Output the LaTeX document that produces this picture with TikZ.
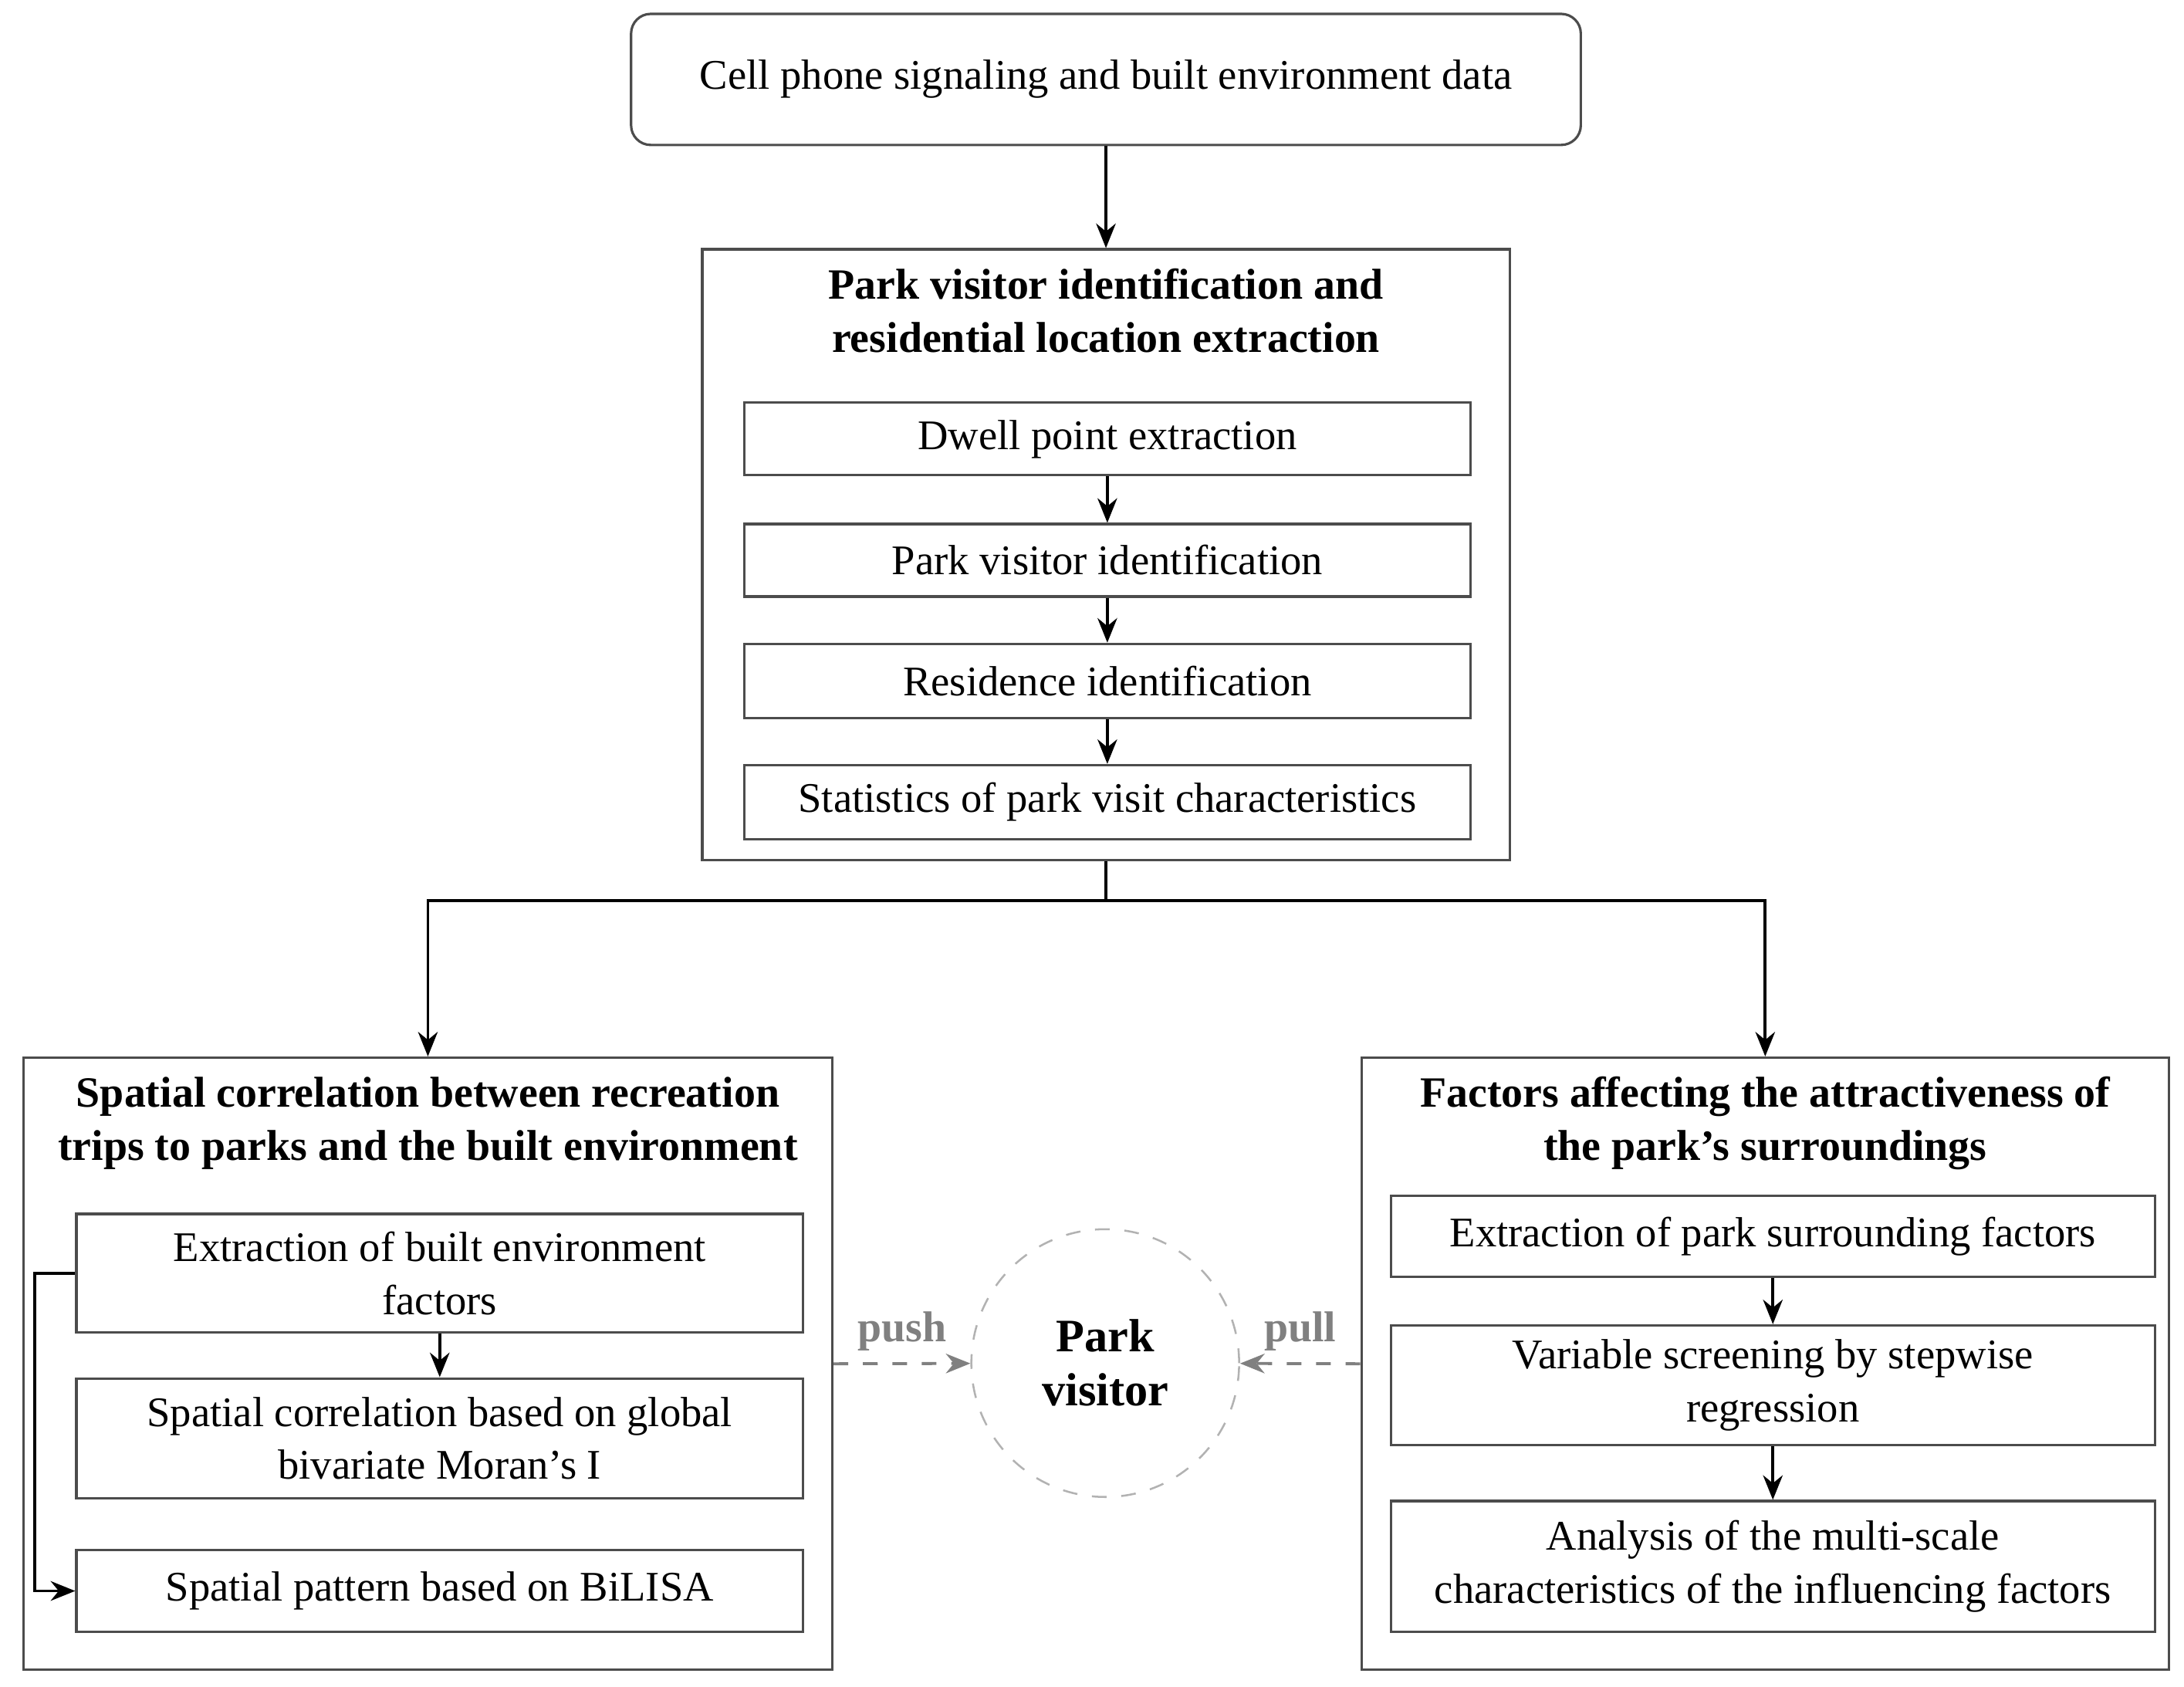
\documentclass[tikz,border=0pt]{standalone}
\usepackage{fontspec}
\setmainfont{Liberation Serif}
\usetikzlibrary{arrows.meta}
\begin{document}
\begin{tikzpicture}[x=0.01cm,y=-0.01cm,
  box/.style={draw=black!70,line width=0.5pt,align=center,font=\fontsize{8.6}{10.8}\selectfont,inner sep=0pt},
  frame/.style={draw=black!70,line width=0.5pt},
  ttl/.style={align=center,font=\fontsize{8.8}{10.8}\selectfont\bfseries},
  arr/.style={-{Stealth[length=5pt,width=4pt]},line width=0.6pt},
  dsh/.style={-{Stealth[length=5pt,width=4pt]},dashed,gray,line width=0.6pt}]
\useasboundingbox (0,0) rectangle (1567,1210);
% top
\node[box,rounded corners=4pt,minimum width=681\pgflinewidth*0+6.81cm,minimum height=0.94cm] (data) at (793.5,57) {Cell phone signaling and built environment data};
% middle block
\node[frame,minimum width=5.79cm,minimum height=4.38cm] (mid) at (793.5,398) {};
\node[ttl] (midt) at (793.5,223) {Park visitor identification and\\residential location extraction};
\node[box,minimum width=5.21cm,minimum height=0.52cm] (m1) at (794.5,315) {Dwell point extraction};
\node[box,minimum width=5.21cm,minimum height=0.52cm] (m2) at (794.5,402) {Park visitor identification};
\node[box,minimum width=5.21cm,minimum height=0.53cm] (m3) at (794.5,488.5) {Residence identification};
\node[box,minimum width=5.21cm,minimum height=0.53cm] (m4) at (794.5,575.5) {Statistics of park visit characteristics};
\draw[arr] (data) -- (mid);
\draw[arr] (m1) -- (m2);
\draw[arr] (m2) -- (m3);
\draw[arr] (m3) -- (m4);
% left block
\node[frame,minimum width=5.80cm,minimum height=4.39cm] (left) at (307,978.5) {};
\node[ttl] (leftt) at (307,806) {Spatial correlation between recreation\\trips to parks and the built environment};
\node[box,minimum width=5.21cm,minimum height=0.85cm] (l1) at (315.5,913.5) {Extraction of built environment\\factors};
\node[box,minimum width=5.21cm,minimum height=0.86cm] (l2) at (315.5,1032) {Spatial correlation based on global\\bivariate Moran’s I};
\node[box,minimum width=5.21cm,minimum height=0.59cm] (l3) at (315.5,1141.5) {Spatial pattern based on BiLISA};
\draw[arr] (l1) -- (l2);
\coordinate (lc) at (25,913.5);
\draw[arr] (l1.west) -- (lc) |- (l3.west);
% right block
\node[frame,minimum width=5.79cm,minimum height=4.39cm] (right) at (1266.5,978.5) {};
\node[ttl] (rightt) at (1266.5,806) {Factors affecting the attractiveness of\\the park’s surroundings};
\node[box,minimum width=5.48cm,minimum height=0.58cm] (r1) at (1272,887) {Extraction of park surrounding factors};
\node[box,minimum width=5.48cm,minimum height=0.86cm] (r2) at (1272,994) {Variable screening by stepwise\\regression};
\node[box,minimum width=5.48cm,minimum height=0.94cm] (r3) at (1272,1124) {Analysis of the multi-scale\\characteristics of the influencing factors};
\draw[arr] (r1) -- (r2);
\draw[arr] (r2) -- (r3);
% branch
\coordinate (br) at (793.5,646);
\draw[line width=0.6pt] (mid.south) -- (br);
\draw[arr] (br) -| (left.north -| 307,0);
\draw[arr] (br) -| (right.north);
% centre
\node[circle,draw=gray!60,dashed,minimum size=1.92cm,align=center,font=\fontsize{9.5}{11}\selectfont\bfseries] (pv) at (793,978) {Park\\visitor};
\draw[dsh] (left.east) -- node[above,font=\fontsize{8.8}{10}\selectfont\bfseries,gray,yshift=-1pt] {push} (pv);
\draw[dsh] (right.west) -- node[above,font=\fontsize{8.8}{10}\selectfont\bfseries,gray,yshift=-1pt] {pull} (pv);
\end{tikzpicture}
\end{document}
